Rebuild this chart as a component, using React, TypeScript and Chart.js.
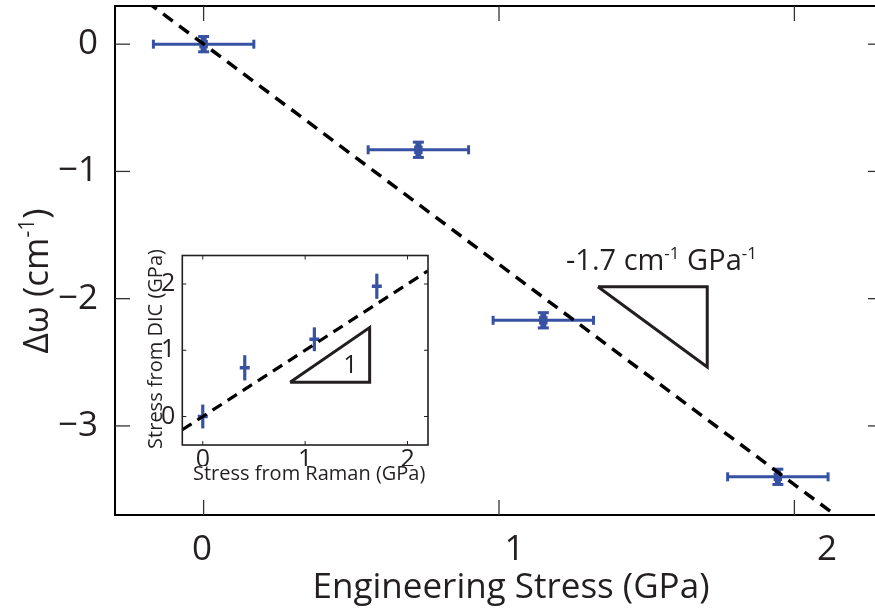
import React, { useEffect, useRef } from 'react';
import { Chart, registerables } from 'chart.js';
Chart.register(...registerables);

// ---------- main panel data ----------
const stressGPa = [0, 0.727, 1.15, 1.944];
const shiftCm = [0, -0.83, -2.17, -3.4];
const stressErr = [0.17, 0.17, 0.17, 0.17];
const shiftErr = [0.06, 0.06, 0.06, 0.06];
const fitStress = [-0.3, 2.3];
const fitShift = [0.52, -3.98];
const slopeTriX = [1.335, 1.705, 1.705, 1.335];
const slopeTriY = [-1.906, -1.906, -2.537, -1.906];
const slopeLabelAt = [1.55, -1.69];
const xRange = [-0.3, 2.3];
const yRange = [-3.7, 0.3];
const xTicks = [0, 1, 2];
const yTicks = [-3, -2, -1, 0];
const xTickLabels = [0, 1, 2];
const xLabelRange = [-0.278, 2.179];

// ---------- inset data ----------
const ramanGPa = [0, 0.41, 1.09, 1.7];
const dicGPa = [0, 0.735, 1.166, 1.966];
const dicErr = [0.18, 0.19, 0.18, 0.19];
const insetFitX = [-0.2, 2.2];
const insetFitY = [-0.2, 2.2];
const insetTriX = [0.853, 1.63, 1.63, 0.853];
const insetTriY = [0.517, 0.517, 1.343, 0.517];
const insetOneAt = [1.443, 0.786];
const insetXRange = [-0.2, 2.2];
const insetYRange = [-0.43, 2.43];
const insetXTicks = [0, 1, 2];
const insetYTicks = [0, 1, 2];

const FAMILY = '"Open Sans", "Noto Sans", sans-serif';
const TEXT = '#231f20';
const BLUE = '#3752a3';

type Seg = { t: string; sup?: boolean };

function drawSegs(ctx: CanvasRenderingContext2D, segs: Seg[], cx: number, cy: number, size: number, rot = 0) {
  ctx.save();
  ctx.translate(cx, cy);
  ctx.rotate(rot);
  ctx.fillStyle = TEXT;
  ctx.textBaseline = 'alphabetic';
  ctx.textAlign = 'left';
  const widths = segs.map((s) => {
    ctx.font = `${s.sup ? Math.round(size * 0.6) : size}px ${FAMILY}`;
    return ctx.measureText(s.t).width;
  });
  const total = widths.reduce((a, b) => a + b, 0);
  let x = -total / 2;
  const base = size * 0.36;
  segs.forEach((s, i) => {
    ctx.font = `${s.sup ? Math.round(size * 0.6) : size}px ${FAMILY}`;
    ctx.fillText(s.t, x, s.sup ? base - size * 0.38 : base);
    x += widths[i];
  });
  ctx.restore();
}

function line(ctx: CanvasRenderingContext2D, x0: number, y0: number, x1: number, y1: number) {
  ctx.beginPath();
  ctx.moveTo(x0, y0);
  ctx.lineTo(x1, y1);
  ctx.stroke();
}

const pts = (xs: number[], ys: number[]) => xs.map((x, i) => ({ x, y: ys[i] }));
const fixTicks = (vals: number[]) => (s: any) => {
  s.ticks = vals.map((value) => ({ value }));
};
const fixSize = (w: number | null, h: number | null) => (s: any) => {
  if (w !== null) s.width = w;
  if (h !== null) s.height = h;
  s.paddingTop = 0;
  s.paddingBottom = 0;
  s.paddingLeft = 0;
  s.paddingRight = 0;
};

const mainPlugin = {
  id: 'mainDecor',
  beforeDatasetsDraw(chart: any) {
    const { ctx } = chart;
    const xs = chart.scales.x;
    const ys = chart.scales.y;
    ctx.save();
    ctx.strokeStyle = BLUE;
    stressGPa.forEach((sx, i) => {
      const px = xs.getPixelForValue(sx);
      const py = ys.getPixelForValue(shiftCm[i]);
      const x0 = xs.getPixelForValue(sx - stressErr[i]);
      const x1 = xs.getPixelForValue(sx + stressErr[i]);
      ctx.lineWidth = 3;
      line(ctx, x0, py, x1, py);
      line(ctx, x0, py - 4.5, x0, py + 4.5);
      line(ctx, x1, py - 4.5, x1, py + 4.5);
      const y0 = ys.getPixelForValue(shiftCm[i] - shiftErr[i]);
      const y1 = ys.getPixelForValue(shiftCm[i] + shiftErr[i]);
      ctx.lineWidth = 6;
      line(ctx, px, y0, px, y1);
      ctx.lineWidth = 3;
      line(ctx, px - 5.5, y0, px + 5.5, y0);
      line(ctx, px - 5.5, y1, px + 5.5, y1);
    });
    ctx.restore();
  },
  afterDraw(chart: any) {
    const { ctx, chartArea: a } = chart;
    const xs = chart.scales.x;
    const ys = chart.scales.y;
    const xl = chart.scales.xl;
    ctx.save();
    ctx.strokeStyle = '#000';
    ctx.lineWidth = 2;
    ctx.strokeRect(a.left, a.top, a.right - a.left, a.bottom - a.top);
    ctx.strokeStyle = '#333';
    ctx.lineWidth = 1.3;
    xs.ticks.forEach((t: any) => {
      const p = xs.getPixelForValue(t.value);
      line(ctx, p, a.bottom, p, a.bottom - 15);
      line(ctx, p, a.top, p, a.top + 15);
    });
    ys.ticks.forEach((t: any) => {
      const p = ys.getPixelForValue(t.value);
      line(ctx, a.left, p, a.left + 15, p);
      line(ctx, a.right, p, a.right - 15, p);
    });
    ctx.fillStyle = TEXT;
    ctx.font = `35px ${FAMILY}`;
    ctx.textAlign = 'center';
    ctx.textBaseline = 'middle';
    xTickLabels.forEach((v) => {
      ctx.fillText(String(v), xl.getPixelForValue(v), a.bottom + 35);
    });
    drawSegs(ctx, [{ t: 'Engineering Stress (GPa)' }], 511, 585, 35);
    drawSegs(ctx, [{ t: 'Δω (cm' }, { t: '-1', sup: true }, { t: ')' }], 35, 281, 35, -Math.PI / 2);
    drawSegs(
      ctx,
      [{ t: '-1.7 cm' }, { t: '-1', sup: true }, { t: ' GPa' }, { t: '-1', sup: true }],
      xs.getPixelForValue(slopeLabelAt[0]),
      ys.getPixelForValue(slopeLabelAt[1]),
      29
    );
    ctx.restore();
  },
};

const insetPlugin = {
  id: 'insetDecor',
  beforeDatasetsDraw(chart: any) {
    const { ctx } = chart;
    const xs = chart.scales.x;
    const ys = chart.scales.y;
    ctx.save();
    ctx.strokeStyle = BLUE;
    ctx.lineWidth = 3.2;
    ramanGPa.forEach((rx, i) => {
      const px = xs.getPixelForValue(rx);
      const y0 = ys.getPixelForValue(dicGPa[i] - dicErr[i]);
      const y1 = ys.getPixelForValue(dicGPa[i] + dicErr[i]);
      line(ctx, px, y0, px, y1);
    });
    ctx.restore();
  },
  afterDraw(chart: any) {
    const { ctx, chartArea: a } = chart;
    const xs = chart.scales.x;
    const ys = chart.scales.y;
    ctx.save();
    ctx.strokeStyle = TEXT;
    ctx.lineWidth = 1.6;
    ctx.strokeRect(a.left, a.top, a.right - a.left, a.bottom - a.top);
    ctx.lineWidth = 1;
    xs.ticks.forEach((t: any) => {
      const p = xs.getPixelForValue(t.value);
      line(ctx, p, a.bottom, p, a.bottom - 4);
      line(ctx, p, a.top, p, a.top + 4);
    });
    ys.ticks.forEach((t: any) => {
      const p = ys.getPixelForValue(t.value);
      line(ctx, a.left, p, a.left + 4, p);
      line(ctx, a.right, p, a.right - 4, p);
    });
    ctx.fillStyle = '#fff';
    ctx.fillRect(a.left - 5, a.bottom + 21, a.right - a.left + 10, 24);
    drawSegs(ctx, [{ t: 'Stress from Raman (GPa)' }], (a.left + a.right) / 2 + 4, a.bottom + 28, 20);
    drawSegs(ctx, [{ t: 'Stress from DIC (GPa)' }], 25, 109, 20, -Math.PI / 2);
    drawSegs(ctx, [{ t: '1' }], xs.getPixelForValue(insetOneAt[0]), ys.getPixelForValue(insetOneAt[1]), 25);
    ctx.restore();
  },
};

export default function App() {
  const mainRef = useRef<HTMLCanvasElement>(null);
  const insetRef = useRef<HTMLCanvasElement>(null);

  useEffect(() => {
    const main = new Chart(mainRef.current!, {
      type: 'scatter',
      data: {
        datasets: [
          {
            data: pts(fitStress, fitShift),
            showLine: true,
            borderColor: '#000',
            borderWidth: 3.5,
            borderDash: [12, 8],
            pointRadius: 0,
          },
          {
            data: pts(slopeTriX, slopeTriY),
            showLine: true,
            borderColor: TEXT,
            borderWidth: 3,
            pointRadius: 0,
            borderJoinStyle: 'miter',
          },
          {
            data: pts(stressGPa, shiftCm),
            pointStyle: 'rect',
            pointRadius: 6,
            backgroundColor: BLUE,
            borderWidth: 0,
          },
        ] as any,
      },
      options: {
        animation: false,
        responsive: false,
        devicePixelRatio: 1,
        layout: { padding: { top: 4, right: 17, left: 0, bottom: 0 } },
        plugins: { legend: { display: false }, tooltip: { enabled: false } },
        scales: {
          x: {
            type: 'linear',
            min: xRange[0],
            max: xRange[1],
            afterBuildTicks: fixTicks(xTicks),
            ticks: { color: 'transparent', font: { family: FAMILY, size: 35 } },
            grid: { display: false, drawTicks: false },
            border: { display: false },
            afterFit: fixSize(null, 96),
          },
          xl: {
            type: 'linear',
            display: false,
            position: 'bottom',
            min: xLabelRange[0],
            max: xLabelRange[1],
          },
          y: {
            type: 'linear',
            min: yRange[0],
            max: yRange[1],
            afterBuildTicks: fixTicks(yTicks),
            ticks: {
              color: TEXT,
              padding: 17,
              font: { family: FAMILY, size: 35 },
              callback: (v: any) => (v < 0 ? '\u2212' + Math.abs(v) : String(v)),
            },
            grid: { display: false, drawTicks: false },
            border: { display: false },
            afterFit: fixSize(115, null),
          },
        } as any,
      },
      plugins: [mainPlugin],
    });

    const inset = new Chart(insetRef.current!, {
      type: 'scatter',
      data: {
        datasets: [
          {
            data: pts(insetFitX, insetFitY),
            showLine: true,
            borderColor: '#000',
            borderWidth: 3.2,
            borderDash: [11, 7],
            pointRadius: 0,
          },
          {
            data: pts(insetTriX, insetTriY),
            showLine: true,
            borderColor: TEXT,
            borderWidth: 3,
            pointRadius: 0,
            borderJoinStyle: 'miter',
          },
          {
            data: pts(ramanGPa, dicGPa),
            pointStyle: 'line',
            pointRadius: 5,
            borderColor: BLUE,
            borderWidth: 3.5,
          },
        ] as any,
      },
      options: {
        animation: false,
        responsive: false,
        devicePixelRatio: 1,
        layout: { padding: { top: 15.5, right: 12, left: 0, bottom: 0 } },
        plugins: { legend: { display: false }, tooltip: { enabled: false } },
        scales: {
          x: {
            type: 'linear',
            min: insetXRange[0],
            max: insetXRange[1],
            afterBuildTicks: fixTicks(insetXTicks),
            ticks: { color: TEXT, padding: 0, font: { family: FAMILY, size: 25 } },
            grid: { display: false, drawTicks: false },
            border: { display: false },
            afterFit: fixSize(null, 55),
          },
          y: {
            type: 'linear',
            min: insetYRange[0],
            max: insetYRange[1],
            afterBuildTicks: fixTicks(insetYTicks),
            ticks: { color: TEXT, padding: 7, font: { family: FAMILY, size: 25 } },
            grid: { display: false, drawTicks: false },
            border: { display: false },
            afterFit: fixSize(52.3, null),
          },
        } as any,
      },
      plugins: [insetPlugin],
    });

    return () => {
      main.destroy();
      inset.destroy();
    };
  }, []);

  return (
    <div style={{ position: 'absolute', left: 0, top: 0, width: 875, height: 611, overflow: 'hidden', background: '#fff' }}>
      <canvas ref={mainRef} width={900} height={611} style={{ position: 'absolute', left: 0, top: 0 }} />
      <canvas ref={insetRef} width={310} height={260} style={{ position: 'absolute', left: 130, top: 240 }} />
    </div>
  );
}
